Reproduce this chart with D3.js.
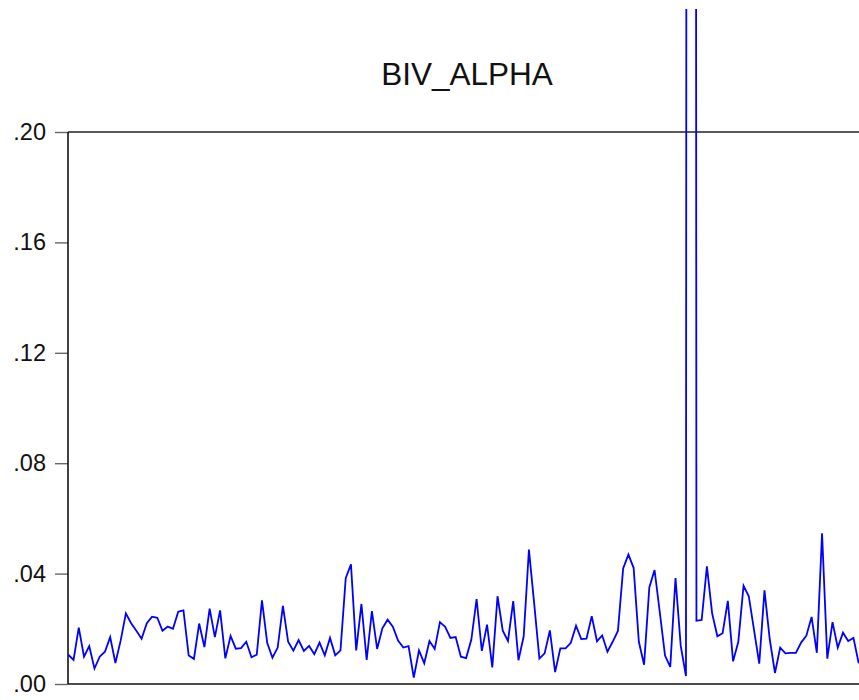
<!DOCTYPE html>
<html>
<head>
<meta charset="utf-8">
<script src="https://cdn.jsdelivr.net/npm/d3@7"></script>
<style>
  body { margin: 0; background: #fff; }
  svg { display: block; }
</style>
</head>
<body>
<div id="chart"></div>
<script>
const title = "BIV_ALPHA";
const yTicks = [0, 0.04, 0.08, 0.12, 0.16, 0.20];
const yTickLabels = [".00", ".04", ".08", ".12", ".16", ".20"];

const values1 = [
  0.0106, 0.0087, 0.0204, 0.0099, 0.0137, 0.0056, 0.0099, 0.0117, 0.0170, 0.0076,
  0.0157, 0.0256, 0.0220, 0.0193, 0.0164, 0.0220, 0.0244, 0.0240, 0.0193, 0.0208,
  0.0200, 0.0262, 0.0267, 0.0103, 0.0091, 0.0219, 0.0134, 0.0273, 0.0170, 0.0267,
  0.0093, 0.0174, 0.0128, 0.0130, 0.0153, 0.0097, 0.0106, 0.0303, 0.0149, 0.0095,
  0.0132, 0.0283, 0.0153, 0.0121, 0.0159, 0.0120, 0.0138, 0.0108, 0.0150, 0.0104,
  0.0167
];
const values2 = [
  0.0104, 0.0122, 0.0383, 0.0434, 0.0122, 0.0290, 0.0087, 0.0264, 0.0127, 0.0202,
  0.0233, 0.0208, 0.0157, 0.0132, 0.0137, 0.0023, 0.0122, 0.0075, 0.0156, 0.0127,
  0.0224, 0.0207, 0.0167, 0.0170, 0.0099, 0.0094, 0.0161, 0.0308, 0.0120, 0.0215,
  0.0060, 0.0318, 0.0193, 0.0156, 0.0300, 0.0086, 0.0173, 0.0487, 0.0292, 0.0092,
  0.0111, 0.0194, 0.0043, 0.0129, 0.0129, 0.0149, 0.0211, 0.0163, 0.0164
];
const values3 = [
  0.0246, 0.0155, 0.0176, 0.0117, 0.0153, 0.0192, 0.0419, 0.0469, 0.0421, 0.0153,
  0.0070, 0.0350, 0.0413, 0.0260, 0.0103, 0.0062, 0.0384, 0.0138, 0.0029,
  3.5, // outlier, way off the top of the chart
  0.0229, 0.0232, 0.0426, 0.0256, 0.0173, 0.0184, 0.0301, 0.0082, 0.0153, 0.0356,
  0.0318, 0.0196, 0.0074, 0.0339, 0.0163, 0.0040, 0.0132, 0.0111, 0.0113, 0.0113,
  0.0150, 0.0175, 0.0243, 0.0113, 0.0546, 0.0092, 0.0224, 0.0132, 0.0186, 0.0156,
  0.0167, 0.0075
];
const series = values1.concat(values2, values3);

const width = 859, height = 700;
const margin = {top: 132, left: 68, bottom: 16};

const svg = d3.select("#chart").append("svg")
  .attr("width", width)
  .attr("height", height);

const x = d3.scaleLinear()
  .domain([0, series.length - 1])
  .range([68.3, 858.7]);

const y = d3.scaleLinear()
  .domain([0, 0.20])
  .range([height - margin.bottom, margin.top]);

// title
svg.append("text")
  .attr("x", 467)
  .attr("y", 85)
  .attr("text-anchor", "middle")
  .attr("font-family", "Arial, 'Liberation Sans', sans-serif")
  .attr("font-size", 31.5)
  .attr("fill", "#111")
  .text(title);

// clip so the spike stops near the top like in the original
svg.append("clipPath").attr("id", "clip")
  .append("rect")
  .attr("x", 0).attr("y", 9)
  .attr("width", width).attr("height", height - 9);

// frame: top line, left and bottom axes (right side runs off the page)
svg.append("line")
  .attr("x1", margin.left).attr("x2", width + 20)
  .attr("y1", y(0.20)).attr("y2", y(0.20))
  .attr("stroke", "#222").attr("stroke-width", 1.4);

// y axis
const yAxis = d3.axisLeft(y)
  .tickValues(yTicks)
  .tickFormat((d, i) => yTickLabels[i])
  .tickSize(13)
  .tickPadding(9);

const gy = svg.append("g")
  .attr("transform", `translate(${margin.left},0)`)
  .call(yAxis);
gy.select(".domain").remove();
gy.selectAll(".tick line").attr("stroke", "#666").attr("stroke-width", 1.4);
gy.selectAll(".tick text")
  .attr("font-family", "Arial, 'Liberation Sans', sans-serif")
  .attr("font-size", 23.5)
  .attr("fill", "#111");

svg.append("line")
  .attr("x1", margin.left).attr("x2", margin.left)
  .attr("y1", y(0.20)).attr("y2", y(0))
  .attr("stroke", "#111").attr("stroke-width", 1.6);

// the series
const line = d3.line()
  .x((d, i) => x(i))
  .y(d => y(d));

svg.append("path")
  .datum(series)
  .attr("clip-path", "url(#clip)")
  .attr("d", line)
  .attr("fill", "none")
  .attr("stroke", "#0000ff")
  .attr("stroke-width", 1.8)
  .attr("stroke-linejoin", "miter");

// x axis baseline
svg.append("line")
  .attr("x1", margin.left).attr("x2", width + 20)
  .attr("y1", y(0)).attr("y2", y(0))
  .attr("stroke", "#111").attr("stroke-width", 1.6);
</script>
</body>
</html>
